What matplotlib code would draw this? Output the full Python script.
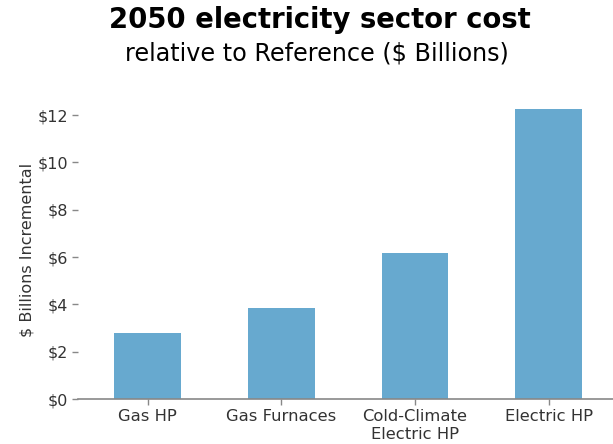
import matplotlib
matplotlib.use("Agg")
import matplotlib.pyplot as plt

categories = ["Gas HP", "Gas Furnaces", "Cold-Climate\nElectric HP", "Electric HP"]
values = [2.79, 3.84, 6.17, 12.25]
yticks = [0, 2, 4, 6, 8, 10, 12]
ytick_labels = ["$0", "$2", "$4", "$6", "$8", "$10", "$12"]

W, H = 613, 444
fig = plt.figure(figsize=(W / 100, H / 100), dpi=100)
ax = fig.add_axes([78 / W, 1 - 399 / H, (613 - 78) / W, (399 - 101) / H])

ax.bar(range(len(categories)), values, width=0.5, color="#67a9cf")
ax.set_xlim(-0.52, 3.48)
ax.set_ylim(0, 12.6)
ax.set_xticks(range(len(categories)))
ax.set_xticklabels(categories, fontsize=11.8, color="#333333", linespacing=1.3)
ax.set_yticks(yticks)
ax.set_yticklabels(ytick_labels, fontsize=11.5, color="#333333")
ax.tick_params(axis="both", length=4, color="#888888", width=1, pad=3)
for s in ["top", "right", "left"]:
    ax.spines[s].set_visible(False)
ax.spines["bottom"].set_color("#888888")
ax.spines["bottom"].set_linewidth(1.2)
ax.set_ylabel("$ Billions Incremental", fontsize=11.5, color="#333333", labelpad=2)

fig.text(319.5 / W, 1 - 20 / H, "2050 electricity sector cost", ha="center", va="center",
         fontsize=19.8, fontweight="bold", color="black")
fig.text(317 / W, 1 - 53 / H, "relative to Reference ($ Billions)", ha="center", va="center",
         fontsize=17.2, color="black")

fig.savefig("out.png", dpi=100)
